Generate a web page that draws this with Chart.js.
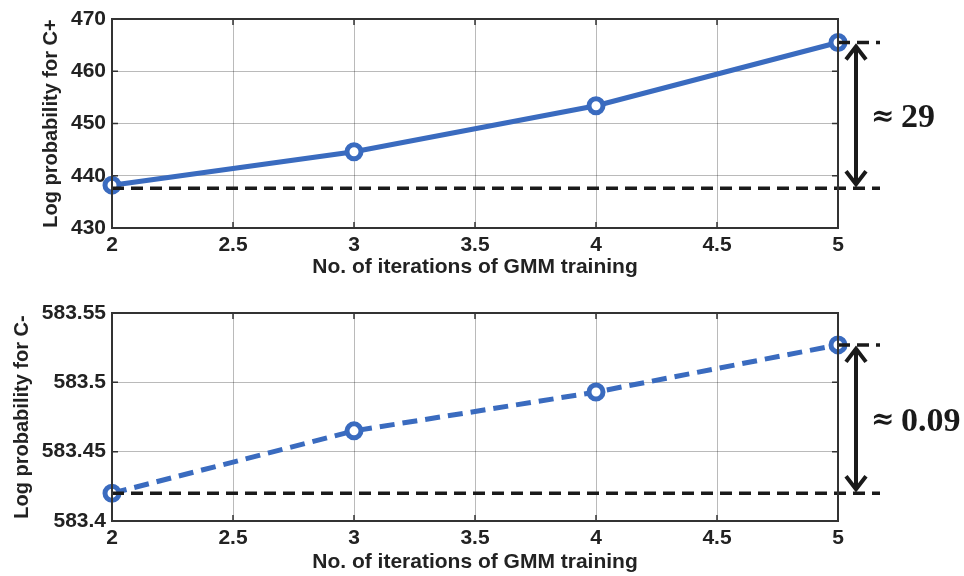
<!DOCTYPE html>
<html>
<head>
<meta charset="utf-8">
<script src="https://cdn.jsdelivr.net/npm/chart.js@4"></script>
<style>
  body { margin: 0; background: #fff; }
  .wrap { position: absolute; left: 0; }
</style>
</head>
<body>
<div class="wrap" style="top:0"><canvas id="plusChart" width="964" height="290"></canvas></div>
<div class="wrap" style="top:290px"><canvas id="minusChart" width="964" height="286"></canvas></div>
<script>
// data
const iterations = [2, 3, 4, 5];
const logProbPlus = [438.2, 444.6, 453.4, 465.5];
const logProbMinus = [583.420, 583.465, 583.493, 583.527];
const baselinePlus = 437.6;
const baselineMinus = 583.42;
const xTicks = [2, 2.5, 3, 3.5, 4, 4.5, 5];
const yTicksPlus = [430, 440, 450, 460, 470];
const yTicksMinus = [583.4, 583.45, 583.5, 583.55];
const approxSign = '\u2248';
const diffLabels = ['29', '0.09'];

const blue = '#3a6bbf';
const ink = '#222';
const tickFont = { family: 'Arial, "Liberation Sans"', size: 21, weight: 'bold' };
const yTitleFont = { family: 'Arial, "Liberation Sans"', size: 20, weight: 'bold' };

const fmt = v => String(+v.toFixed(2));

// box + inward ticks like matlab
const boxPlugin = {
  id: 'box',
  afterDraw(chart) {
    const { ctx, chartArea: a, scales } = chart;
    ctx.save();
    ctx.strokeStyle = '#333';
    ctx.lineWidth = 1.5;
    scales.x.ticks.forEach(t => {
      const px = scales.x.getPixelForValue(t.value);
      ctx.beginPath();
      ctx.moveTo(px, a.top); ctx.lineTo(px, a.top + 6);
      ctx.moveTo(px, a.bottom); ctx.lineTo(px, a.bottom - 6);
      ctx.stroke();
    });
    scales.y.ticks.forEach(t => {
      const py = scales.y.getPixelForValue(t.value);
      ctx.beginPath();
      ctx.moveTo(a.left, py); ctx.lineTo(a.left + 6, py);
      ctx.moveTo(a.right, py); ctx.lineTo(a.right - 6, py);
      ctx.stroke();
    });
    ctx.lineWidth = 2;
    ctx.strokeRect(a.left, a.top, a.right - a.left, a.bottom - a.top);
    ctx.restore();
  }
};

// dashed reference lines, arrow and the difference text
function diffPlugin(values, base, label) {
  return {
    id: 'diff',
    afterDatasetsDraw(chart) {
      const { ctx, chartArea: a, scales } = chart;
      const yb = scales.y.getPixelForValue(base);
      const yt = scales.y.getPixelForValue(values[values.length - 1]);
      const ext = a.right + 42;
      const ax = a.right + 18;
      ctx.save();
      ctx.strokeStyle = '#1a1a1a';
      ctx.lineWidth = 3.5;
      ctx.setLineDash([12, 7]);
      ctx.beginPath();
      ctx.moveTo(a.left, yb); ctx.lineTo(ext, yb);
      ctx.moveTo(a.right, yt); ctx.lineTo(ext, yt);
      ctx.stroke();
      ctx.setLineDash([]);
      ctx.lineWidth = 4;
      ctx.lineJoin = 'miter';
      ctx.beginPath();
      ctx.moveTo(ax, yt + 4); ctx.lineTo(ax, yb - 4);
      ctx.moveTo(ax - 10, yt + 17); ctx.lineTo(ax, yt + 4); ctx.lineTo(ax + 10, yt + 17);
      ctx.moveTo(ax - 10, yb - 17); ctx.lineTo(ax, yb - 4); ctx.lineTo(ax + 10, yb - 17);
      ctx.stroke();
      ctx.fillStyle = '#1a1a1a';
      ctx.textBaseline = 'middle';
      const ym = (yt + yb) / 2 + 2;
      ctx.font = 'bold 28px "DejaVu Serif", serif';
      ctx.fillText(approxSign, a.right + 33, ym);
      ctx.font = 'bold 34px "Liberation Serif", "Times New Roman", serif';
      ctx.fillText(label, a.right + 63, ym + 1);
      ctx.restore();
    }
  };
}

function makeChart(id, values, yTicks, yTitle, dashed, opts) {
  return new Chart(document.getElementById(id), {
    type: 'line',
    data: {
      datasets: [{
        data: iterations.map((x, i) => ({ x: x, y: values[i] })),
        borderColor: blue,
        borderWidth: 5,
        borderDash: dashed ? [15, 8] : [],
        pointStyle: 'circle',
        pointRadius: 7,
        pointBorderWidth: 5,
        pointBackgroundColor: '#fff',
        pointBorderColor: blue,
        clip: false,
        tension: 0
      }]
    },
    options: {
      responsive: false,
      animation: false,
      layout: { padding: { top: opts.top, right: 126, left: 0, bottom: 0 } },
      plugins: { legend: { display: false }, tooltip: { enabled: false } },
      scales: {
        x: {
          type: 'linear',
          min: xTicks[0], max: xTicks[xTicks.length - 1],
          afterBuildTicks: s => { s.ticks = xTicks.map(v => ({ value: v })); },
          afterFit: s => { s.height = opts.xHeight; },
          grid: { color: 'rgba(0,0,0,0.27)', lineWidth: 1, drawTicks: false },
          border: { display: false },
          ticks: { color: ink, font: tickFont, padding: 5, maxRotation: 0, callback: fmt },
          title: { display: true, text: 'No. of iterations of GMM training', color: ink,
                   font: tickFont, padding: { top: 0, bottom: opts.xTitlePad } }
        },
        y: {
          min: yTicks[0], max: yTicks[yTicks.length - 1],
          afterBuildTicks: s => { s.ticks = yTicks.map(v => ({ value: v })); },
          afterFit: s => { s.width = 112; },
          grid: { color: 'rgba(0,0,0,0.27)', lineWidth: 1, drawTicks: false },
          border: { display: false },
          ticks: { color: ink, font: tickFont, padding: 6, callback: fmt },
          title: { display: true, text: yTitle, color: ink, font: yTitleFont,
                   padding: { top: opts.yTitlePad, bottom: 0 } }
        }
      }
    },
    plugins: [boxPlugin, diffPlugin(values, opts.base, opts.label)]
  });
}

makeChart('plusChart', logProbPlus, yTicksPlus, 'Log probability for C+', false,
  { top: 19, xHeight: 62, xTitlePad: 10, yTitlePad: 39, base: baselinePlus, label: diffLabels[0] });
makeChart('minusChart', logProbMinus, yTicksMinus, 'Log probability for C-', true,
  { top: 23, xHeight: 55, xTitlePad: 1, yTitlePad: 10, base: baselineMinus, label: diffLabels[1] });
</script>
</body>
</html>
